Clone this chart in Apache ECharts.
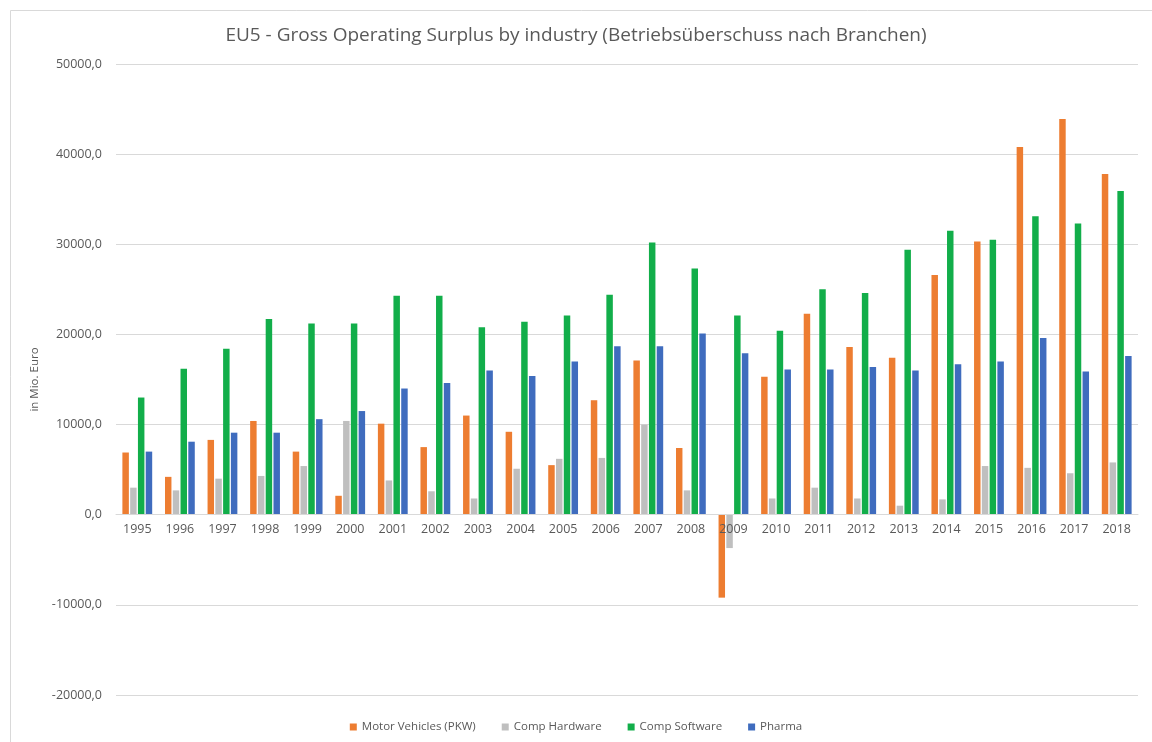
<!DOCTYPE html>
<html><head><meta charset="utf-8">
<script src="https://cdn.jsdelivr.net/npm/echarts@6/dist/echarts.min.js"></script>
<style>html,body{margin:0;padding:0;background:#fff}#c{width:1152px;height:742px}</style>
</head><body><div id="c"></div>
<script>
const years = ['1995','1996','1997','1998','1999','2000','2001','2002','2003','2004','2005','2006','2007','2008','2009','2010','2011','2012','2013','2014','2015','2016','2017','2018'];
const motorVehicles = [6900,4200,8300,10400,7000,2100,10100,7500,11000,9200,5500,12700,17100,7400,-9200,15300,22300,18600,17400,26600,30300,40800,43900,37800];
const compHardware = [3000,2700,4000,4300,5400,10400,3800,2600,1800,5100,6200,6300,10000,2700,-3700,1800,3000,1800,1000,1700,5400,5200,4600,5800];
const compSoftware = [13000,16200,18400,21700,21200,21200,24300,24300,20800,21400,22100,24400,30200,27300,22100,20400,25000,24600,29400,31500,30500,33100,32300,35900];
const pharma = [7000,8100,9100,9100,10600,11500,14000,14600,16000,15400,17000,18700,18700,20100,17900,16100,16100,16400,16000,16700,17000,19600,15900,17600];
const seriesNames = ['Motor Vehicles (PKW)','Comp Hardware','Comp Software','Pharma'];
const colors = ['#ED7D31','#BFBFBF','#12AE4A','#3F6CBE'];
const yMin = -20000, yMax = 50000;

const gridTop = 64, gridBottom = 47, H = 742;
const plotH = H - gridTop - gridBottom;
const zeroOffset = -plotH * (0 - yMin) / (yMax - yMin);

const chart = echarts.init(document.getElementById('c'));
const mk = (name, data, i) => ({name, type:'bar', data, itemStyle:{color:colors[i]}, barGap:'20%', barCategoryGap:'30%', z:2});
chart.setOption({
  backgroundColor:'#fff',
  animation:false,
  title:{text:'EU5 - Gross Operating Surplus by industry (Betriebsüberschuss nach Branchen)', left:'center', top:21,
    textStyle:{fontFamily:'Liberation Sans Narrow, Open Sans, sans-serif', fontSize:19, fontWeight:'normal', color:'#595959'}},
  legend:{bottom:4, left:'center', itemWidth:7, itemHeight:7, itemGap:26, icon:'rect',
    textStyle:{fontFamily:'Open Sans, sans-serif', fontSize:11.5, color:'#595959'}},
  grid:{left:116, right:14, top:gridTop, bottom:gridBottom, containLabel:false},
  xAxis:{type:'category', data:years, position:'bottom', offset:zeroOffset, z:10,
    axisLine:{show:true, onZero:false, lineStyle:{color:'#D9D9D9'}}, axisTick:{show:false},
    axisLabel:{fontFamily:'Open Sans, sans-serif', fontSize:12.5, color:'#595959', margin:8}},
  yAxis:{type:'value', min:yMin, max:yMax, interval:10000,
    name:'in Mio. Euro', nameLocation:'middle', nameGap:70, nameRotate:90,
    nameTextStyle:{fontFamily:'Open Sans, sans-serif', fontSize:11.5, color:'#595959'},
    axisLine:{show:false}, axisTick:{show:false},
    splitLine:{lineStyle:{color:'#D9D9D9'}},
    axisLabel:{fontFamily:'Open Sans, sans-serif', fontSize:12.5, color:'#595959', margin:14,
      formatter:v=>v.toFixed(1).replace('.',',')}},
  graphic:[{type:'rect', left:8, top:8, shape:{width:1200, height:800}, style:{fill:'none', stroke:'#D9D9D9', lineWidth:1}, silent:true}],
  series:[mk(seriesNames[0],motorVehicles,0),mk(seriesNames[1],compHardware,1),mk(seriesNames[2],compSoftware,2),mk(seriesNames[3],pharma,3)]
});
</script></body></html>
